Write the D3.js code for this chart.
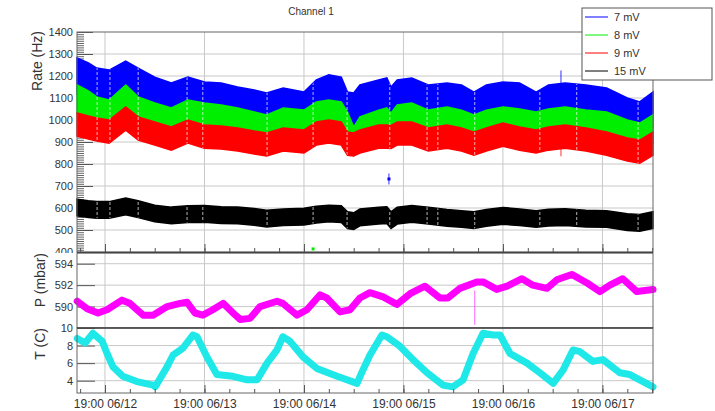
<!DOCTYPE html>
<html>
<head>
<meta charset="utf-8">
<script src="https://cdn.jsdelivr.net/npm/d3@7"></script>
<style>
  body { margin: 0; background: #fff; }
  svg { font-family: "Liberation Sans", Arial, sans-serif; }
</style>
</head>
<body>
<div id="chart"></div>
<script>
// time is in hours since 06/12 00:00
const rateHours = [12.25,15,17,20,24,27,31,35,39,43,47,51,55,58,62,67,70,73,76,77.5,79,80.5,85,87,88,89.5,93,97,101.5,105,108,111,115,119,123,126,130,135,140,145,148,151.2];
const rate7mV  = [1227,1204,1181,1172,1213,1181,1140,1113,1140,1118,1113,1095,1081,1068,1090,1072,1127,1150,1140,1072,1068,1104,1127,1136,1095,1127,1136,1104,1113,1104,1072,1104,1118,1113,1072,1104,1113,1104,1090,1045,1027,1072];
const rate8mV  = [1104,1077,1050,1036,1104,1050,1022,1000,1036,1022,1013,1000,981,968,1000,990,1027,1036,1027,981,913,959,990,1000,977,1013,1022,990,1004,990,968,990,1004,995,981,995,1004,990,981,945,931,968];
const rate9mV  = [977,963,954,945,1004,959,936,913,945,922,918,909,895,886,909,900,936,945,936,890,886,900,922,922,920,936,936,909,922,909,890,909,931,913,900,913,922,909,890,863,854,890];
const rate15mV = [602,595,591,591,607,595,575,566,572,573,568,566,560,552,558,561,570,575,572,545,540,557,565,568,545,565,573,565,555,550,545,555,564,558,550,556,559,552,550,536,532,545];
const channelNames = ["7 mV", "8 mV", "9 mV", "15 mV"];
// spread of the band of points above and below the mean (Hz)
const spreadUp = [55, 55, 55, 38];
const spreadDown = [110, 75, 50, 38];

// hours with gaps in the rate data
const gapHours = [17.1,20.2,27.0,38.8,42.6,58.1,69.2,77.4,87.7,96.7,99.3,108.2,123.9,132.8,147.6];

// stray points with error bars
const outlierHours = [87.5, 129.0, 129.0, 69.2];
const outlierRates = [732, 1150, 900, 414];
const outlierErrors = [25, 75, 65, 2];
const outlierChannel = [0, 0, 2, 1];

const pHours = [12.3,14.7,17.3,19.5,23.1,25.0,28.2,30.6,34.0,37.1,38.8,40.7,42.6,45.0,47.5,49.9,51.6,54.0,56.4,60.5,61.9,65.3,67.7,70.9,72.5,75.7,78.1,80.5,82.9,86.1,89.4,92.6,96.2,99.8,101.7,104.6,108.7,110.2,113.5,116.0,119.6,122.2,125.6,128.0,131.6,135.3,138.4,140.8,143.9,147.3,151.2];
const pValues = [590.5,589.8,589.4,589.7,590.6,590.3,589.2,589.2,590.0,590.3,590.4,589.4,589.2,589.7,590.3,589.4,588.8,588.9,590.0,590.5,590.3,589.2,589.7,591.1,590.8,589.5,589.7,590.8,591.3,590.9,590.2,591.2,591.9,590.8,590.8,591.7,592.3,592.3,591.6,591.9,592.6,592.0,591.7,592.5,593.0,592.2,591.4,592.0,592.6,591.4,591.6];
const pSpikeHour = [108.2];
const pSpikeLow = [588.3];
const pSpikeHigh = [591.5];

const tHours = [12.3,14.2,16.1,18.3,19.5,20.9,23.3,26.7,30.6,31.1,34.0,35.4,37.8,40.2,41.2,43.6,46.0,49.9,53.3,55.7,58.1,60.5,61.9,63.6,66.8,70.1,75.0,79.8,81.2,82.9,85.8,87.0,90.2,93.3,96.7,100.5,102.9,105.4,107.8,110.2,112.6,114.3,116.7,120.8,123.9,127.1,129.5,131.9,133.6,136.7,139.1,143.2,145.6,148.8,151.2];
const tValues = [8.8,8.3,9.4,8.5,7.1,5.6,4.5,3.9,3.5,3.3,5.6,6.9,7.7,9.2,9.0,6.7,4.7,4.5,4.1,4.1,6.0,7.5,9.0,8.5,6.7,5.4,4.5,3.7,5.2,6.9,9.2,9.0,7.9,6.4,4.9,3.5,3.3,4.1,7.1,9.4,9.2,9.2,7.1,6.0,4.9,3.7,5.2,7.5,7.3,6.2,6.4,4.9,4.7,3.9,3.3];

const rateTicks = d3.range(400, 1401, 100);
const pTicks = [590, 592, 594];
const tTicks = [4, 6, 8, 10];

const colors = ["#0000ff", "#00ee00", "#ff0000", "#000000"];

const svg = d3.select("#chart").append("svg")
    .attr("width", 715)
    .attr("height", 411);

const t0 = new Date(2013, 5, 12, 0, 0);
const toDate = h => new Date(t0.getTime() + h * 3600e3);

const left = 77, right = 653;
const x = d3.scaleTime().domain([toDate(12.25), toDate(151.2)]).range([left, right]);
const yRate = d3.scaleLinear().domain([400, 1400]).range([252, 32]);
const yP = d3.scaleLinear().domain([588, 595]).range([328, 253]);
const yT = d3.scaleLinear().domain([2.6, 10]).range([393, 328]);

const dayTicks = d3.range(19, 152, 24).map(toDate);
const sixHourTicks = d3.range(13, 152, 6).map(toDate);
const fmt = d3.timeFormat("%H:%M %m/%d");

function panel(y, top, bottom, majors, minors, tickLen) {
    let g = svg.append("g");
    g.append("rect").attr("x", 0).attr("y", top).attr("width", 715).attr("height", bottom - top + 1).attr("fill", "#fff");
    // grid
    g.selectAll(".hg").data(majors.filter(v => y(v) > top + 1 && y(v) < bottom - 1)).enter()
        .append("line")
        .attr("x1", left).attr("x2", right)
        .attr("y1", d => y(d)).attr("y2", d => y(d))
        .attr("stroke", "#c8c8c8");
    g.selectAll(".vg").data(dayTicks).enter()
        .append("line")
        .attr("x1", d => x(d)).attr("x2", d => x(d))
        .attr("y1", top).attr("y2", bottom)
        .attr("stroke", "#c8c8c8");
    // y axis, ticks pointing inside
    if (minors) {
        g.append("g").attr("transform", `translate(${left},0)`)
            .call(d3.axisLeft(y).tickValues(minors).tickSizeInner(-7).tickSizeOuter(0).tickFormat(""))
            .call(a => a.select(".domain").remove())
            .selectAll("line").attr("stroke", "#666");
    }
    let ax = g.append("g").attr("transform", `translate(${left},0)`)
        .call(d3.axisLeft(y).tickValues(majors).tickSizeInner(-tickLen).tickSizeOuter(0).tickPadding(4).tickFormat(d3.format("d")));
    ax.select(".domain").remove();
    ax.selectAll("line").attr("stroke", "#555");
    ax.selectAll("text").attr("font-size", 11).attr("fill", "#333").attr("font-family", "Liberation Sans, Arial, sans-serif");
    return g;
}

function frame(top, bottom) {
    svg.append("rect")
        .attr("x", left).attr("y", top)
        .attr("width", right - left).attr("height", bottom - top)
        .attr("fill", "none").attr("stroke", "#666").attr("stroke-width", 1);
}

// ---------- rate panel ----------
let g1 = panel(yRate, 32, 252, rateTicks, d3.range(400, 1401, 10), 16);

let bands = channelNames.map((name, i) => {
    let vals = [rate7mV, rate8mV, rate9mV, rate15mV][i];
    return rateHours.map((h, k) => ({ t: toDate(h), v: vals[k], up: spreadUp[i], dn: spreadDown[i] }));
});
let area = d3.area()
    .x(d => x(d.t))
    .y0(d => yRate(d.v - d.dn))
    .y1(d => yRate(d.v + d.up));

let clip = svg.append("defs").append("clipPath").attr("id", "bandclip");
bands.forEach(b => clip.append("path").attr("d", area(b)));

g1.selectAll(".band").data(bands).enter()
    .append("path")
    .attr("d", area)
    .attr("fill", (d, i) => colors[i])
    .attr("stroke", (d, i) => colors[i])
    .attr("stroke-width", 1.5);

g1.append("g").attr("clip-path", "url(#bandclip)")
    .selectAll("line").data(gapHours).enter()
    .append("line")
    .attr("x1", d => x(toDate(d))).attr("x2", d => x(toDate(d)))
    .attr("y1", 32).attr("y2", 252)
    .attr("stroke", "#fff").attr("stroke-width", 1)
    .attr("stroke-dasharray", "3,2").attr("opacity", 0.7);

let outliers = outlierHours.map((h, i) => ({ t: toDate(h), v: outlierRates[i], e: outlierErrors[i], c: outlierChannel[i] }));
g1.selectAll(".err").data(outliers).enter()
    .append("line")
    .attr("x1", d => x(d.t)).attr("x2", d => x(d.t))
    .attr("y1", d => yRate(d.v - d.e)).attr("y2", d => yRate(d.v + d.e))
    .attr("stroke", d => colors[d.c]).attr("stroke-width", 1).attr("opacity", 0.8);
g1.selectAll(".pt").data(outliers).enter()
    .append("rect")
    .attr("x", d => x(d.t) - 1.5).attr("y", d => yRate(d.v) - 1.5)
    .attr("width", 3).attr("height", 3)
    .attr("fill", d => colors[d.c]);

// time ticks at bottom of rate panel
g1.append("g").attr("transform", "translate(0,252)")
    .call(d3.axisBottom(x).tickValues(sixHourTicks).tickSizeInner(-4).tickSizeOuter(0).tickFormat(""))
    .call(a => a.select(".domain").remove())
    .selectAll("line").attr("stroke", "#555");
g1.append("g").attr("transform", "translate(0,252)")
    .call(d3.axisBottom(x).tickValues(dayTicks).tickSizeInner(-8).tickSizeOuter(0).tickFormat(""))
    .call(a => a.select(".domain").remove())
    .selectAll("line").attr("stroke", "#555");
frame(32, 252);

// ---------- pressure panel ----------
let g2 = panel(yP, 253, 328, pTicks, null, 18);
let pLine = d3.line().x(d => x(d.t)).y(d => yP(d.v));
g2.append("path")
    .datum(pHours.map((h, i) => ({ t: toDate(h), v: pValues[i] })))
    .attr("d", pLine)
    .attr("fill", "none")
    .attr("stroke", "#ff00ff")
    .attr("stroke-width", 7)
    .attr("stroke-linejoin", "round")
    .attr("stroke-linecap", "round");
g2.selectAll(".spike").data(pSpikeHour).enter()
    .append("line")
    .attr("x1", d => x(toDate(d))).attr("x2", d => x(toDate(d)))
    .attr("y1", (d, i) => yP(pSpikeLow[i])).attr("y2", (d, i) => yP(pSpikeHigh[i]))
    .attr("stroke", "#ff00ff").attr("stroke-width", 1).attr("opacity", 0.6);
frame(253, 328);

// ---------- temperature panel ----------
let g3 = panel(yT, 328, 393, tTicks, null, 18);
let tLine = d3.line().x(d => x(d.t)).y(d => yT(d.v));
g3.append("path")
    .datum(tHours.map((h, i) => ({ t: toDate(h), v: tValues[i] })))
    .attr("d", tLine)
    .attr("fill", "none")
    .attr("stroke", "#1ee8e8")
    .attr("stroke-width", 7)
    .attr("stroke-linejoin", "round")
    .attr("stroke-linecap", "round");
frame(328, 393);

// bottom time axis
svg.append("g").attr("transform", "translate(0,393)")
    .call(d3.axisBottom(x).tickValues(sixHourTicks).tickSizeInner(-4).tickSizeOuter(0).tickFormat(""))
    .call(a => a.select(".domain").remove())
    .selectAll("line").attr("stroke", "#555");
let xb = svg.append("g").attr("transform", "translate(0,393)")
    .call(d3.axisBottom(x).tickValues(dayTicks).tickSizeInner(-8).tickSizeOuter(0).tickPadding(6).tickFormat(fmt));
xb.select(".domain").remove();
xb.selectAll("line").attr("stroke", "#555");
xb.selectAll("text").attr("font-size", 12).attr("fill", "#333").attr("font-family", "Liberation Sans, Arial, sans-serif");

// panel dividers
[252.5, 328].forEach(yy => svg.append("line")
    .attr("x1", left).attr("x2", right).attr("y1", yy).attr("y2", yy)
    .attr("stroke", "#444").attr("stroke-width", 1.5));

// axis titles
const titles = [["Rate (Hz)", 42, 31], ["P (mbar)", 45, 253], ["T (C)", 45, 328]];
titles.forEach(t => svg.append("text")
    .attr("transform", `translate(${t[1]},${t[2]}) rotate(-90)`)
    .style("text-anchor", "end")
    .attr("font-size", 14)
    .attr("fill", "#333")
    .text(t[0]));

svg.append("text")
    .attr("x", 311).attr("y", 15)
    .style("text-anchor", "middle")
    .attr("font-size", 10)
    .attr("fill", "#333")
    .text("Channel 1");

// legend
let lg = svg.append("g");
lg.append("rect").attr("x", 582).attr("y", 8).attr("width", 130).attr("height", 72)
    .attr("fill", "#fff").attr("stroke", "#555");
channelNames.forEach((name, i) => {
    let yy = 17 + i * 18;
    lg.append("line").attr("x1", 585).attr("x2", 608).attr("y1", yy).attr("y2", yy)
        .attr("stroke", colors[i]).attr("stroke-width", 1);
    lg.append("text").attr("x", 614).attr("y", yy + 4)
        .attr("font-size", 11).attr("fill", "#333").text(name);
});
</script>
</body>
</html>
